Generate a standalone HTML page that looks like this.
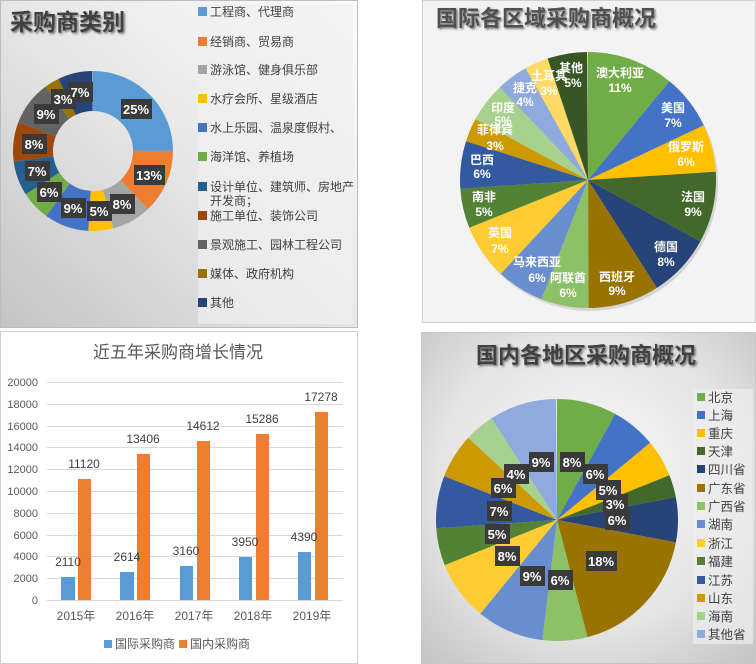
<!DOCTYPE html>
<html><head><meta charset="utf-8"><style>
body{margin:0;width:756px;height:664px;background:#fff;position:relative;overflow:hidden;font-family:"Liberation Sans","Noto Sans CJK SC",sans-serif}
svg{position:absolute;left:0;top:0}
.t{font-family:"Liberation Sans","Noto Sans CJK SC",sans-serif}
</style></head><body>
<svg width="756" height="664" viewBox="0 0 756 664" xmlns="http://www.w3.org/2000/svg" class="t">
<defs>
<linearGradient id="g1" x1="1" y1="0" x2="0" y2="1"><stop offset="0" stop-color="#fdfdfd"/><stop offset="0.5" stop-color="#e6e6e6"/><stop offset="1" stop-color="#c4c4c4"/></linearGradient>
<radialGradient id="g4" cx="0.5" cy="0.45" r="0.75"><stop offset="0" stop-color="#fafafa"/><stop offset="0.6" stop-color="#e4e4e4"/><stop offset="1" stop-color="#c2c2c2"/></radialGradient>
<filter id="sh" x="-20%" y="-20%" width="140%" height="140%"><feDropShadow dx="1.5" dy="1.5" stdDeviation="1" flood-opacity="0.5"/></filter>
</defs>
<!-- Panel 1 -->
<rect x="0.5" y="0.5" width="357" height="327" fill="url(#g1)" stroke="#bdbdbd"/>
<rect x="198" y="4" width="155" height="320" fill="#efefef" opacity="0.7"/>
<text x="10" y="30" font-size="23" font-weight="bold" fill="#404040" filter="url(#sh)">采购商类别</text>
<g transform="rotate(-90 93 151)" fill="none" stroke-width="40">
<circle cx="93" cy="151" r="60" pathLength="100" stroke="#5B9BD5" stroke-dasharray="25 100" stroke-dashoffset="0"/>
<circle cx="93" cy="151" r="60" pathLength="100" stroke="#ED7D31" stroke-dasharray="13 100" stroke-dashoffset="-25"/>
<circle cx="93" cy="151" r="60" pathLength="100" stroke="#A5A5A5" stroke-dasharray="8 100" stroke-dashoffset="-38"/>
<circle cx="93" cy="151" r="60" pathLength="100" stroke="#FFC000" stroke-dasharray="5 100" stroke-dashoffset="-46"/>
<circle cx="93" cy="151" r="60" pathLength="100" stroke="#4472C4" stroke-dasharray="9 100" stroke-dashoffset="-51"/>
<circle cx="93" cy="151" r="60" pathLength="100" stroke="#70AD47" stroke-dasharray="6 100" stroke-dashoffset="-60"/>
<circle cx="93" cy="151" r="60" pathLength="100" stroke="#255E91" stroke-dasharray="7 100" stroke-dashoffset="-66"/>
<circle cx="93" cy="151" r="60" pathLength="100" stroke="#9E480E" stroke-dasharray="8 100" stroke-dashoffset="-73"/>
<circle cx="93" cy="151" r="60" pathLength="100" stroke="#636363" stroke-dasharray="9 100" stroke-dashoffset="-81"/>
<circle cx="93" cy="151" r="60" pathLength="100" stroke="#997300" stroke-dasharray="3 100" stroke-dashoffset="-90"/>
<circle cx="93" cy="151" r="60" pathLength="100" stroke="#264478" stroke-dasharray="7 100" stroke-dashoffset="-93"/>
</g>
<g font-size="13" font-weight="bold" fill="#fff" text-anchor="middle">
<g fill="#3a3a3a">
<rect x="121" y="99" width="31" height="20"/><rect x="134" y="165" width="31" height="20"/><rect x="110" y="194" width="25" height="20"/><rect x="87" y="201" width="25" height="20"/><rect x="61" y="198" width="25" height="20"/><rect x="37" y="182" width="25" height="20"/><rect x="25" y="161" width="25" height="20"/><rect x="22" y="134" width="25" height="20"/><rect x="34" y="104" width="25" height="20"/><rect x="51" y="89" width="25" height="20"/><rect x="68" y="82" width="25" height="20"/>
</g>
<text x="136" y="114">25%</text><text x="149" y="180">13%</text><text x="122" y="209">8%</text><text x="99" y="216">5%</text><text x="73" y="213">9%</text><text x="49" y="197">6%</text><text x="37" y="176">7%</text><text x="34" y="149">8%</text><text x="46" y="119">9%</text><text x="63" y="104">3%</text><text x="80" y="97">7%</text>
</g>
<g font-size="12" fill="#404040">
<rect x="198" y="7" width="9" height="9" fill="#5B9BD5"/><text x="210" y="16">工程商、代理商</text>
<rect x="198" y="37" width="9" height="9" fill="#ED7D31"/><text x="210" y="46">经销商、贸易商</text>
<rect x="198" y="65" width="9" height="9" fill="#A5A5A5"/><text x="210" y="74">游泳馆、健身俱乐部</text>
<rect x="198" y="94" width="9" height="9" fill="#FFC000"/><text x="210" y="103">水疗会所、星级酒店</text>
<rect x="198" y="123" width="9" height="9" fill="#4472C4"/><text x="210" y="132">水上乐园、温泉度假村、</text>
<rect x="198" y="152" width="9" height="9" fill="#70AD47"/><text x="210" y="161">海洋馆、养植场</text>
<rect x="198" y="182" width="9" height="9" fill="#255E91"/><text x="210" y="191">设计单位、建筑师、房地产</text><text x="210" y="205">开发商；</text>
<rect x="198" y="211" width="9" height="9" fill="#9E480E"/><text x="210" y="220">施工单位、装饰公司</text>
<rect x="198" y="240" width="9" height="9" fill="#636363"/><text x="210" y="249">景观施工、园林工程公司</text>
<rect x="198" y="269" width="9" height="9" fill="#997300"/><text x="210" y="278">媒体、政府机构</text>
<rect x="198" y="298" width="9" height="9" fill="#264478"/><text x="210" y="307">其他</text>
</g>
<!-- Panel 2 -->
<rect x="422.5" y="0.5" width="333" height="322" fill="#f3f3f3" stroke="#d0d0d0"/>
<text x="436" y="26" font-size="22" font-weight="bold" fill="#505050" filter="url(#sh)">国际各区域采购商概况</text>
<circle cx="590" cy="183" r="128" fill="#000" opacity="0.12"/>
<g transform="rotate(-90 588 180)" fill="none" stroke-width="128">
<circle cx="588" cy="180" r="64" pathLength="100" stroke="#70AD47" stroke-dasharray="11 100" stroke-dashoffset="0"/>
<circle cx="588" cy="180" r="64" pathLength="100" stroke="#4472C4" stroke-dasharray="7 100" stroke-dashoffset="-11"/>
<circle cx="588" cy="180" r="64" pathLength="100" stroke="#FFC000" stroke-dasharray="6 100" stroke-dashoffset="-18"/>
<circle cx="588" cy="180" r="64" pathLength="100" stroke="#43682B" stroke-dasharray="9 100" stroke-dashoffset="-24"/>
<circle cx="588" cy="180" r="64" pathLength="100" stroke="#264478" stroke-dasharray="8 100" stroke-dashoffset="-33"/>
<circle cx="588" cy="180" r="64" pathLength="100" stroke="#997300" stroke-dasharray="9 100" stroke-dashoffset="-41"/>
<circle cx="588" cy="180" r="64" pathLength="100" stroke="#8CC168" stroke-dasharray="6 100" stroke-dashoffset="-50"/>
<circle cx="588" cy="180" r="64" pathLength="100" stroke="#698ED0" stroke-dasharray="6 100" stroke-dashoffset="-56"/>
<circle cx="588" cy="180" r="64" pathLength="100" stroke="#FFCD33" stroke-dasharray="7 100" stroke-dashoffset="-62"/>
<circle cx="588" cy="180" r="64" pathLength="100" stroke="#548235" stroke-dasharray="5 100" stroke-dashoffset="-69"/>
<circle cx="588" cy="180" r="64" pathLength="100" stroke="#335AA1" stroke-dasharray="6 100" stroke-dashoffset="-74"/>
<circle cx="588" cy="180" r="64" pathLength="100" stroke="#CC9A00" stroke-dasharray="3 100" stroke-dashoffset="-80"/>
<circle cx="588" cy="180" r="64" pathLength="100" stroke="#A9D18E" stroke-dasharray="5 100" stroke-dashoffset="-83"/>
<circle cx="588" cy="180" r="64" pathLength="100" stroke="#8FAADC" stroke-dasharray="4 100" stroke-dashoffset="-88"/>
<circle cx="588" cy="180" r="64" pathLength="100" stroke="#FFD966" stroke-dasharray="3 100" stroke-dashoffset="-92"/>
<circle cx="588" cy="180" r="64" pathLength="100" stroke="#375623" stroke-dasharray="5 100" stroke-dashoffset="-95"/>
</g>
<g font-size="12" font-weight="bold" fill="#fff" text-anchor="middle">
<text x="620" y="77">澳大利亚</text><text x="620" y="92">11%</text>
<text x="673" y="112">美国</text><text x="673" y="127">7%</text>
<text x="686" y="151">俄罗斯</text><text x="686" y="166">6%</text>
<text x="693" y="201">法国</text><text x="693" y="216">9%</text>
<text x="666" y="251">德国</text><text x="666" y="266">8%</text>
<text x="617" y="281">西班牙</text><text x="617" y="295">9%</text>
<text x="568" y="282">阿联酋</text><text x="568" y="297">6%</text>
<text x="537" y="266">马来西亚</text><text x="537" y="282">6%</text>
<text x="500" y="237">英国</text><text x="500" y="253">7%</text>
<text x="484" y="201">南非</text><text x="484" y="216">5%</text>
<text x="482" y="164">巴西</text><text x="482" y="178">6%</text>
<text x="495" y="134">菲律宾</text><text x="495" y="150">3%</text>
<text x="503" y="112">印度</text><text x="503" y="125">5%</text>
<text x="525" y="92">捷克</text><text x="525" y="106">4%</text>
<text x="549" y="80">土耳其</text><text x="549" y="95">3%</text>
<text x="571" y="72">其他</text><text x="573" y="87">5%</text>
</g>
<!-- Panel 3 -->
<rect x="0.5" y="331.5" width="357" height="332" fill="#fff" stroke="#d0d0d0"/>
<text x="178" y="358" font-size="17" fill="#595959" text-anchor="middle">近五年采购商增长情况</text>
<g stroke="#d9d9d9" stroke-width="1">
<line x1="47" y1="382.5" x2="343" y2="382.5"/><line x1="47" y1="404.5" x2="343" y2="404.5"/><line x1="47" y1="426.5" x2="343" y2="426.5"/><line x1="47" y1="447.5" x2="343" y2="447.5"/><line x1="47" y1="469.5" x2="343" y2="469.5"/><line x1="47" y1="491.5" x2="343" y2="491.5"/><line x1="47" y1="513.5" x2="343" y2="513.5"/><line x1="47" y1="535.5" x2="343" y2="535.5"/><line x1="47" y1="556.5" x2="343" y2="556.5"/><line x1="47" y1="578.5" x2="343" y2="578.5"/><line x1="47" y1="600.5" x2="343" y2="600.5"/>
</g>
<g font-size="11" fill="#595959" text-anchor="end">
<text x="38" y="386">20000</text><text x="38" y="408">18000</text><text x="38" y="430">16000</text><text x="38" y="451">14000</text><text x="38" y="473">12000</text><text x="38" y="495">10000</text><text x="38" y="517">8000</text><text x="38" y="539">6000</text><text x="38" y="560">4000</text><text x="38" y="582">2000</text><text x="38" y="604">0</text>
</g>
<g fill="#5B9BD5">
<rect x="61" y="577" width="14" height="23"/><rect x="120" y="572" width="14" height="28"/><rect x="180" y="566" width="13" height="34"/><rect x="239" y="557" width="13" height="43"/><rect x="298" y="552" width="13" height="48"/>
</g>
<g fill="#ED7D31">
<rect x="78" y="479" width="13" height="121"/><rect x="137" y="454" width="13" height="146"/><rect x="197" y="441" width="13" height="159"/><rect x="256" y="434" width="13" height="166"/><rect x="315" y="412" width="13" height="188"/>
</g>
<g font-size="12" fill="#404040" text-anchor="middle">
<text x="68" y="566">2110</text><text x="127" y="561">2614</text><text x="186" y="555">3160</text><text x="245" y="546">3950</text><text x="304" y="541">4390</text>
<text x="84" y="468">11120</text><text x="143" y="443">13406</text><text x="203" y="430">14612</text><text x="262" y="423">15286</text><text x="321" y="401">17278</text>
</g>
<g font-size="12" fill="#595959" text-anchor="middle">
<text x="76" y="620">2015年</text><text x="135" y="620">2016年</text><text x="194" y="620">2017年</text><text x="253" y="620">2018年</text><text x="312" y="620">2019年</text>
</g>
<rect x="104" y="640" width="8" height="8" fill="#5B9BD5"/><text x="115" y="648" font-size="12" fill="#595959">国际采购商</text>
<rect x="179" y="640" width="8" height="8" fill="#ED7D31"/><text x="190" y="648" font-size="12" fill="#595959">国内采购商</text>
<!-- Panel 4 -->
<rect x="421.5" y="332.5" width="334" height="331" fill="url(#g4)" stroke="#c8c8c8"/>
<text x="586" y="363" font-size="22" font-weight="bold" fill="#404040" text-anchor="middle" filter="url(#sh)">国内各地区采购商概况</text>
<rect x="693" y="389" width="60" height="255" fill="#eeeeee" opacity="0.7"/>
<g transform="rotate(-90 557 520)" fill="none" stroke-width="121">
<circle cx="557" cy="520" r="60.5" pathLength="100" stroke="#70AD47" stroke-dasharray="8 100" stroke-dashoffset="0"/>
<circle cx="557" cy="520" r="60.5" pathLength="100" stroke="#4472C4" stroke-dasharray="6 100" stroke-dashoffset="-8"/>
<circle cx="557" cy="520" r="60.5" pathLength="100" stroke="#FFC000" stroke-dasharray="5 100" stroke-dashoffset="-14"/>
<circle cx="557" cy="520" r="60.5" pathLength="100" stroke="#43682B" stroke-dasharray="3 100" stroke-dashoffset="-19"/>
<circle cx="557" cy="520" r="60.5" pathLength="100" stroke="#264478" stroke-dasharray="6 100" stroke-dashoffset="-22"/>
<circle cx="557" cy="520" r="60.5" pathLength="100" stroke="#997300" stroke-dasharray="18 100" stroke-dashoffset="-28"/>
<circle cx="557" cy="520" r="60.5" pathLength="100" stroke="#8CC168" stroke-dasharray="6 100" stroke-dashoffset="-46"/>
<circle cx="557" cy="520" r="60.5" pathLength="100" stroke="#698ED0" stroke-dasharray="9 100" stroke-dashoffset="-52"/>
<circle cx="557" cy="520" r="60.5" pathLength="100" stroke="#FFCD33" stroke-dasharray="8 100" stroke-dashoffset="-61"/>
<circle cx="557" cy="520" r="60.5" pathLength="100" stroke="#548235" stroke-dasharray="5 100" stroke-dashoffset="-69"/>
<circle cx="557" cy="520" r="60.5" pathLength="100" stroke="#335AA1" stroke-dasharray="7 100" stroke-dashoffset="-74"/>
<circle cx="557" cy="520" r="60.5" pathLength="100" stroke="#CC9A00" stroke-dasharray="6 100" stroke-dashoffset="-81"/>
<circle cx="557" cy="520" r="60.5" pathLength="100" stroke="#A9D18E" stroke-dasharray="4 100" stroke-dashoffset="-87"/>
<circle cx="557" cy="520" r="60.5" pathLength="100" stroke="#8FAADC" stroke-dasharray="9 100" stroke-dashoffset="-91"/>
</g>
<g fill="#3a3a3a">
<rect x="560" y="452" width="25" height="20"/><rect x="583" y="464" width="25" height="20"/><rect x="596" y="480" width="25" height="20"/><rect x="603" y="494" width="25" height="20"/><rect x="605" y="510" width="25" height="20"/><rect x="586" y="551" width="31" height="20"/><rect x="548" y="570" width="25" height="20"/><rect x="520" y="566" width="25" height="20"/><rect x="495" y="546" width="25" height="20"/><rect x="485" y="524" width="25" height="20"/><rect x="487" y="501" width="25" height="20"/><rect x="491" y="478" width="25" height="20"/><rect x="504" y="464" width="25" height="20"/><rect x="529" y="452" width="25" height="20"/>
</g>
<g font-size="13" font-weight="bold" fill="#fff" text-anchor="middle">
<text x="572" y="467">8%</text><text x="595" y="479">6%</text><text x="608" y="495">5%</text><text x="615" y="509">3%</text><text x="617" y="525">6%</text><text x="601" y="566">18%</text><text x="560" y="585">6%</text><text x="532" y="581">9%</text><text x="507" y="561">8%</text><text x="497" y="539">5%</text><text x="499" y="516">7%</text><text x="503" y="493">6%</text><text x="516" y="479">4%</text><text x="541" y="467">9%</text>
</g>
<g font-size="12.5" fill="#404040">
<rect x="697" y="393" width="8" height="8" fill="#70AD47"/><text x="708" y="402">北京</text>
<rect x="697" y="411" width="8" height="8" fill="#4472C4"/><text x="708" y="420">上海</text>
<rect x="697" y="429" width="8" height="8" fill="#FFC000"/><text x="708" y="438">重庆</text>
<rect x="697" y="447" width="8" height="8" fill="#43682B"/><text x="708" y="456">天津</text>
<rect x="697" y="465" width="8" height="8" fill="#264478"/><text x="708" y="474">四川省</text>
<rect x="697" y="484" width="8" height="8" fill="#997300"/><text x="708" y="493">广东省</text>
<rect x="697" y="502" width="8" height="8" fill="#8CC168"/><text x="708" y="511">广西省</text>
<rect x="697" y="520" width="8" height="8" fill="#698ED0"/><text x="708" y="529">湖南</text>
<rect x="697" y="539" width="8" height="8" fill="#FFCD33"/><text x="708" y="548">浙江</text>
<rect x="697" y="557" width="8" height="8" fill="#548235"/><text x="708" y="566">福建</text>
<rect x="697" y="576" width="8" height="8" fill="#335AA1"/><text x="708" y="585">江苏</text>
<rect x="697" y="594" width="8" height="8" fill="#CC9A00"/><text x="708" y="603">山东</text>
<rect x="697" y="612" width="8" height="8" fill="#A9D18E"/><text x="708" y="621">海南</text>
<rect x="697" y="630" width="8" height="8" fill="#8FAADC"/><text x="708" y="639">其他省</text>
</g>
</svg>
</body></html>
